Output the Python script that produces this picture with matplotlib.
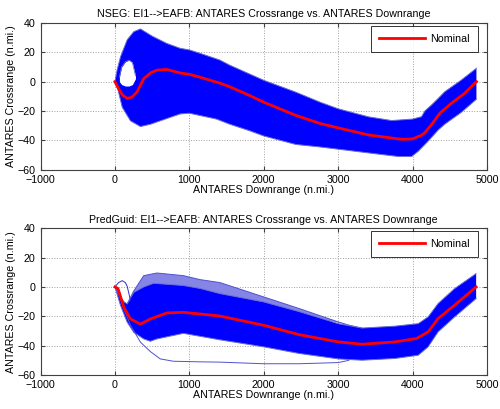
import numpy as np
import matplotlib
matplotlib.use('Agg')
import matplotlib.pyplot as plt

plt.rcParams['font.family'] = ['Liberation Sans', 'DejaVu Sans']

# ---- NSEG (top) ----
nom1_x = [0, 40, 100, 165, 230, 298, 387, 480, 565, 698, 877, 1000, 1143, 1410, 1543, 1813, 2000,
          2432, 2757, 3000, 3409, 3853, 4000, 4120, 4165, 4253, 4365, 4520, 4698, 4858]
nom1_y = [0, -4, -9, -11.5, -10.5, -7, 2, 6, 7.8, 8.3, 5.9, 5, 3, -1, -3.5, -9.5, -14,
          -23, -28.5, -31.5, -36.3, -39.3, -39, -36.5, -34.7, -29.4, -21.6, -14.8, -8, 0]

up1_x = [0, 30, 76, 165, 253, 343, 500, 698, 877, 1000, 1143, 1410, 1543, 2000, 2432, 2757,
         3000, 3409, 3720, 4000, 4120, 4165, 4253, 4343, 4432, 4653, 4858]
up1_y = [0, 8, 17, 28.5, 34, 35.9, 31, 26, 22.7, 21.6, 19.3, 14.7, 11.2, 0.9, -7.2, -14,
         -18.5, -24, -26.5, -25.5, -23.9, -20, -16, -11.5, -6.9, 1, 9.1]

lo1_x = [0, 32, 99, 209, 343, 480, 609, 877, 1000, 1365, 1543, 1813, 2000, 2432, 2757, 3000,
         3400, 3810, 3987, 4077, 4210, 4343, 4432, 4653, 4858]
lo1_y = [0, -3.7, -17.5, -26.7, -30.6, -29, -26.7, -22, -21.5, -25.5, -29, -33.5, -37, -42.8,
         -44.5, -46, -48.5, -51, -51, -47.4, -40.5, -33, -29, -21, -12]

# white gap inside the dispersion near the start
hole_x = [60, 90, 140, 190, 235, 276]
hole_hi = [3, 10, 13.5, 14.7, 13, 4]
hole_lo = [0, -2, -3, -3, -2, 2]

# ---- PredGuid (bottom) ----
nom2_x = [0, 40, 60, 120, 209, 343, 476, 698, 920, 1143, 1410, 2000, 2476, 3000, 3320, 3765,
          4053, 4209, 4343, 4565, 4854]
nom2_y = [0, -1, -4, -13.9, -21.8, -25.3, -21.8, -17.7, -17.3, -18.4, -19.8, -26.1, -32.5, -37.4,
          -39, -37.4, -35.1, -30.6, -21.5, -12.4, 0]

up2_x = [0, 60, 120, 165, 253, 387, 520, 920, 1143, 1410, 2000, 2476, 2876, 3000, 3320, 3765,
         4076, 4209, 4343, 4565, 4854]
up2_y = [0, -6, -10, -11.6, -3.7, 0, 2.5, 1, -1, -4.5, -10.2, -16.8, -23, -25, -28, -26.7,
         -25, -20.4, -11.3, -1.1, 9.1]

lo2_x = [0, 76, 165, 253, 387, 476, 565, 920, 1410, 2000, 2476, 3000, 3320, 3765, 4076, 4209,
         4343, 4565, 4854]
lo2_y = [0, -12.7, -24, -30.9, -35.4, -37, -35.4, -31.6, -36, -40.8, -45.3, -49, -49.9, -48.7,
         -46.5, -40.8, -30.6, -20.4, -7.9]

# outlier runs
stray_x = [165, 250, 387, 565, 920, 1143, 1410, 2000, 2476, 3000, 3143, 3320]
stray_y = [-11.6, -3, 7.7, 9.5, 7.7, 5, 3, -6.8, -14.7, -23.8, -26, -28]
loop_x = [0, 50, 98, 140, 165, 209]
loop_y = [0, 3, 4.3, 3, 0.4, -9]
low_x = [0, 60, 120, 209, 343, 476, 609, 787, 1143, 1410, 2000, 2476, 3000, 3143]
low_y = [0, -6, -15, -26, -37.6, -44, -49, -50.6, -51, -51.2, -52.3, -52.3, -51.5, -50]

titles = ['NSEG: EI1-->EAFB: ANTARES Crossrange vs. ANTARES Downrange',
          'PredGuid: EI1-->EAFB: ANTARES Crossrange vs. ANTARES Downrange']

fig = plt.figure(figsize=(5, 4.09), dpi=100)
ax1 = fig.add_axes([0.081, 0.585, 0.893, 0.359])
ax2 = fig.add_axes([0.081, 0.083, 0.893, 0.359])

blue = '#0000ff'
edge = '#6a6ad8'


def band(ax, ux, uy, lx, ly):
    px = np.r_[ux, lx[::-1]]
    py = np.r_[uy, ly[::-1]]
    ax.fill(px, py, color=blue, lw=0, zorder=2)
    ax.plot(ux, uy, color=edge, lw=0.7, zorder=2)
    ax.plot(lx, ly, color=edge, lw=0.7, zorder=2)


band(ax1, up1_x, up1_y, lo1_x, lo1_y)
ax1.fill_between(hole_x, hole_lo, hole_hi, color='white', lw=0, zorder=2.5)
ax1.plot(hole_x, hole_hi, color=edge, lw=0.6, zorder=2.6)
ax1.plot(nom1_x, nom1_y, color='red', lw=2, label='Nominal', zorder=3)

# lighter spread of outliers above the dense band
ax2.fill(np.r_[stray_x, up2_x[3:13][::-1]], np.r_[stray_y, up2_y[3:13][::-1]],
         color='#8585e6', lw=0, zorder=1.5)
ax2.plot(stray_x, stray_y, color='#5050d0', lw=0.7, zorder=2)
band(ax2, up2_x, up2_y, lo2_x, lo2_y)
ax2.plot(loop_x, loop_y, color='#3030c8', lw=0.7, zorder=2)
ax2.plot(low_x, low_y, color='#5050d0', lw=0.7, zorder=2)
ax2.plot(nom2_x, nom2_y, color='red', lw=2, label='Nominal', zorder=3)

fs = 7.7
for ax, t in zip([ax1, ax2], titles):
    ax.set_xlim(-1000, 5000)
    ax.set_ylim(-60, 40)
    ax.set_xticks(range(-1000, 5001, 1000))
    ax.set_yticks(range(-60, 41, 20))
    ax.grid(True, linestyle=':', color='#a0a0a0', lw=0.7)
    ax.set_axisbelow(True)
    ax.tick_params(direction='in', labelsize=fs, length=3, colors='#404040', labelcolor='black',
                   top=True, right=True)
    for s in ax.spines.values():
        s.set_color('#404040')
        s.set_linewidth(0.8)
    ax.set_title(t, fontsize=fs, pad=4)
    ax.set_xlabel('ANTARES Downrange (n.mi.)', fontsize=fs, labelpad=0)
    ax.set_ylabel('ANTARES Crossrange (n.mi.)', fontsize=fs, labelpad=1)
    leg = ax.legend(loc='upper right', fontsize=fs, handlelength=4.3, handletextpad=0.5,
                    fancybox=False, edgecolor='black', borderpad=0.75, borderaxespad=0,
                    bbox_to_anchor=(0.98, 0.98))
    leg.get_frame().set_linewidth(0.7)

fig.savefig('out.png', dpi=100)
